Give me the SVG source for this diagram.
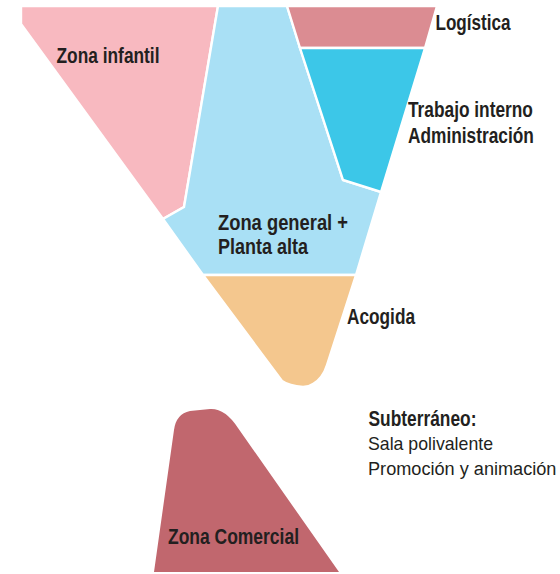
<svg xmlns="http://www.w3.org/2000/svg" width="560" height="574" viewBox="0 0 560 574">
<style>
.zone{stroke:#ffffff;stroke-width:2.4;stroke-linejoin:miter}
.lb{font-family:"Liberation Sans",Arial,sans-serif;font-weight:bold;font-size:21.5px;fill:#231F20}
.lr{font-family:"Liberation Sans",Arial,sans-serif;font-size:19px;fill:#231F20}
</style>
<rect width="560" height="574" fill="#ffffff"/>
<g id="zona-infantil">
<polygon class="zone" fill="#F8B9C0" points="21,6 218,6 184,207 163,219 21,24"/>
<text class="lb" x="56.5" y="63.3" textLength="103" lengthAdjust="spacingAndGlyphs">Zona infantil</text>
</g>
<g id="zona-general">
<polygon class="zone" fill="#A9E0F5" points="218,6 287,6 300,48 343,180 381,192 356,275 203,275 163,219 184,207"/>
<text class="lb" x="218" y="229.5" textLength="130" lengthAdjust="spacingAndGlyphs">Zona general +</text>
<text class="lb" x="218" y="253.5" textLength="90" lengthAdjust="spacingAndGlyphs">Planta alta</text>
</g>
<g id="logistica">
<polygon class="zone" fill="#DB8C92" points="287,6 437,6 425,48 300,48"/>
<text class="lb" x="435.5" y="30" textLength="75" lengthAdjust="spacingAndGlyphs">Logística</text>
</g>
<g id="trabajo-interno">
<polygon class="zone" fill="#3CC7E8" points="300,48 425,48 381,192 343,180"/>
<text class="lb" transform="translate(408,117) scale(0.805,1)">Trabajo interno</text>
<text class="lb" transform="translate(408,143) scale(0.805,1)">Administración</text>
</g>
<g id="acogida">
<path class="zone" fill="#F4C78E" d="M203,275 L356,275 L327,365 Q323,378 313,384 Q309,387 303,387 Q289,386 282,381 Z"/>
<text class="lb" x="347" y="324" textLength="68" lengthAdjust="spacingAndGlyphs">Acogida</text>
</g>
<g id="zona-comercial">
<path fill="#C1676E" d="M154,572 L174,430 Q176,414 190,411 L210,409 Q225,408 238,428 L339,572 Z"/>
<text class="lb" x="168" y="544" textLength="131" lengthAdjust="spacingAndGlyphs">Zona Comercial</text>
</g>
<g id="subterraneo">
<text class="lb" x="368.5" y="425.5" textLength="108" lengthAdjust="spacingAndGlyphs">Subterráneo:</text>
<text class="lr" x="368" y="450" textLength="125" lengthAdjust="spacingAndGlyphs">Sala polivalente</text>
<text class="lr" transform="translate(368,474.5) scale(0.955,1)">Promoción y animación</text>
</g>
<g id="connectors"/>
</svg>
